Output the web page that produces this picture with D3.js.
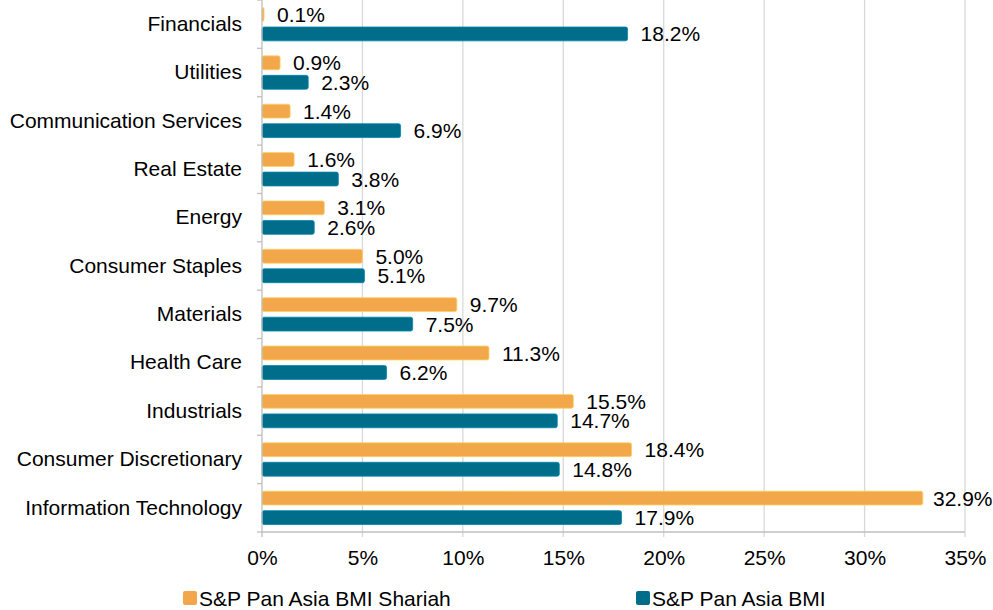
<!DOCTYPE html>
<html>
<head>
<meta charset="utf-8">
<script src="https://cdn.jsdelivr.net/npm/d3@7"></script>
<style>
  body { margin: 0; background: #fff; }
  svg text { font-family: Arial, "Liberation Sans", sans-serif; fill: #000; }
</style>
</head>
<body>
<svg class="sector_chart" width="993" height="610"></svg>
<script>
var categories = ["Financials", "Utilities", "Communication Services", "Real Estate", "Energy",
  "Consumer Staples", "Materials", "Health Care", "Industrials", "Consumer Discretionary",
  "Information Technology"];
var shariah = [0.1, 0.9, 1.4, 1.6, 3.1, 5.0, 9.7, 11.3, 15.5, 18.4, 32.9];
var bmi = [18.2, 2.3, 6.9, 3.8, 2.6, 5.1, 7.5, 6.2, 14.7, 14.8, 17.9];
var seriesNames = ["S&P Pan Asia BMI Shariah", "S&P Pan Asia BMI"];
var seriesColors = ["#F2A74B", "#006D8A"];
var xTicks = [0, 5, 10, 15, 20, 25, 30, 35];

var fontSize = "21px";

var svg = d3.select("svg.sector_chart"),
    margin = {top: 0, right: 28, bottom: 78, left: 262},
    width = +svg.attr("width") - margin.left - margin.right,
    height = +svg.attr("height") - margin.top - margin.bottom,
    g = svg.append("g").attr("transform", "translate(" + margin.left + "," + margin.top + ")");

var x = d3.scaleLinear().domain([0, 35]).range([0, width]);
var y = d3.scaleBand().domain(categories).range([0, height]);
var y1 = d3.scaleBand().domain([0, 1]).range([0, y.bandwidth()])
    .paddingInner(0.29).paddingOuter(0.385);

// gridlines
g.selectAll(".grid")
  .data(xTicks.slice(1))
  .enter().append("line")
    .attr("x1", function(d) { return x(d); })
    .attr("x2", function(d) { return x(d); })
    .attr("y1", 0)
    .attr("y2", height + 5)
    .attr("stroke", "#D9D9D9")
    .attr("stroke-width", 1.3);

// bars
var rows = categories.map(function(c, i) { return {cat: c, vals: [shariah[i], bmi[i]]}; });

var row = g.selectAll(".row")
  .data(rows)
  .enter().append("g")
    .attr("transform", function(d) { return "translate(0," + y(d.cat) + ")"; });

row.selectAll("rect")
  .data(function(d) { return d.vals; })
  .enter().append("rect")
    .attr("x", x(0))
    .attr("y", function(d, i) { return y1(i); })
    .attr("width", function(d) { return x(d) - x(0); })
    .attr("height", y1.bandwidth())
    .attr("rx", 2)
    .attr("fill", function(d, i) { return seriesColors[i]; })
    .attr("stroke", function(d, i) { return d3.color(seriesColors[i]).brighter(0.6); })
    .attr("stroke-width", 0.8);

row.selectAll(".lbl")
  .data(function(d) { return d.vals; })
  .enter().append("text")
    .attr("class", "lbl")
    .attr("x", function(d) { return Math.min(x(d) + 13, 671); })
    .attr("y", function(d, i) { return y1(i) + y1.bandwidth() / 2; })
    .attr("dy", "0.36em")
    .style("font-size", fontSize)
    .text(function(d) { return d.toFixed(1) + "%"; });

// axes
var yAxis = g.append("g")
    .call(d3.axisLeft(y).tickSize(0).tickPadding(20));
yAxis.select(".domain").remove();
yAxis.selectAll("text").style("font-size", fontSize);

g.selectAll(".ytick")
  .data(d3.range(categories.length + 1))
  .enter().append("line")
    .attr("x1", -5).attr("x2", 0)
    .attr("y1", function(d) { return d * y.step(); })
    .attr("y2", function(d) { return d * y.step(); })
    .attr("stroke", "#BFBFBF")
    .attr("stroke-width", 1.3);

g.append("line")
    .attr("x1", 0).attr("x2", 0)
    .attr("y1", 0).attr("y2", height + 5)
    .attr("stroke", "#BFBFBF")
    .attr("stroke-width", 1.3);

g.append("line")
    .attr("x1", 0).attr("x2", width)
    .attr("y1", height).attr("y2", height)
    .attr("stroke", "#BFBFBF")
    .attr("stroke-width", 1.3);

var xAxis = g.append("g")
    .attr("transform", "translate(0," + height + ")")
    .call(d3.axisBottom(x).tickValues(xTicks).tickSize(0).tickPadding(18)
      .tickFormat(function(d) { return d + "%"; }));
xAxis.select(".domain").remove();
xAxis.selectAll("text").style("font-size", fontSize);

// legend
var legendX = [183, 636];
var legend = svg.selectAll(".legend")
  .data(seriesNames)
  .enter().append("g")
    .attr("transform", function(d, i) { return "translate(" + legendX[i] + ",591)"; });

legend.append("rect")
    .attr("width", 14).attr("height", 14).attr("rx", 2)
    .attr("fill", function(d, i) { return seriesColors[i]; });

legend.append("text")
    .attr("x", 16).attr("y", 7).attr("dy", "0.36em")
    .style("font-size", fontSize)
    .text(function(d) { return d; });
</script>
</body>
</html>
